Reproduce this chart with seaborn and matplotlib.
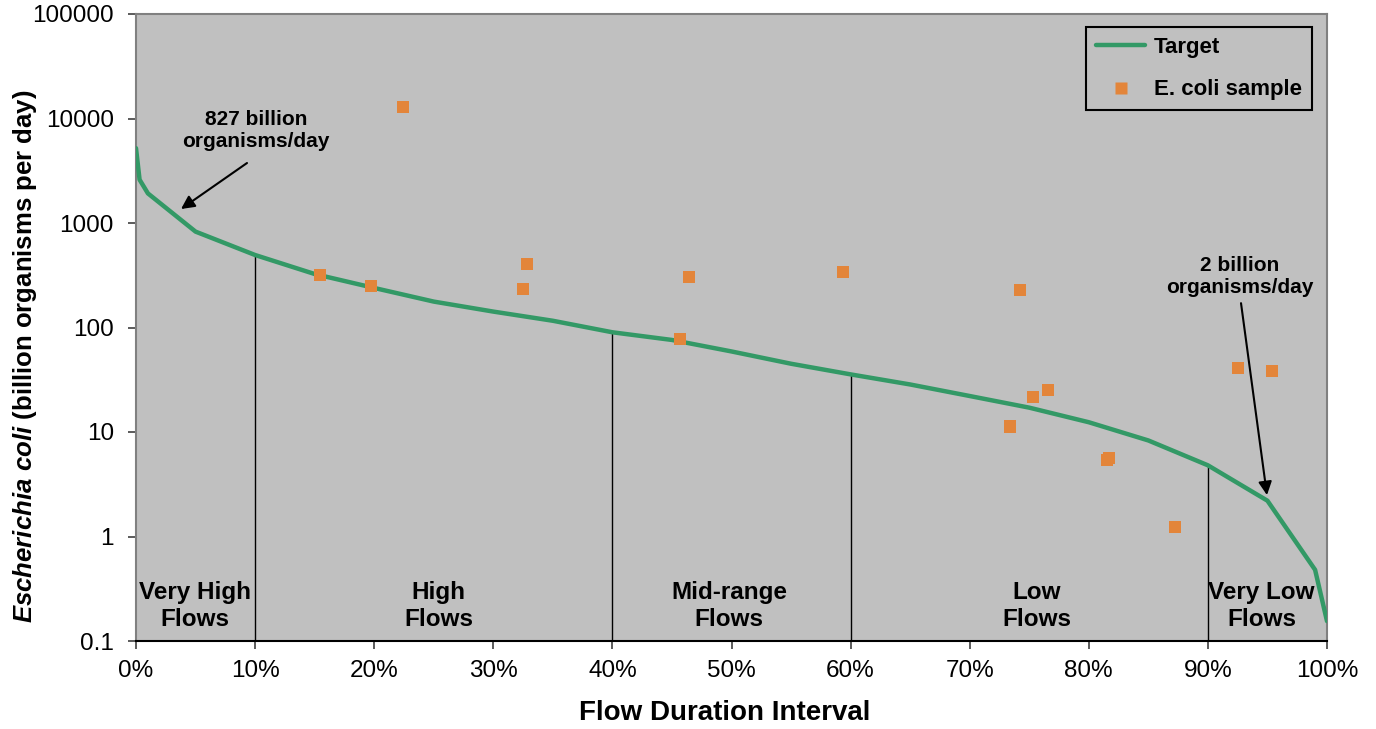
import numpy as np
import pandas as pd
import matplotlib
matplotlib.use("Agg")
import matplotlib.pyplot as plt
from matplotlib.ticker import FixedLocator, FixedFormatter, PercentFormatter, NullLocator
from matplotlib.lines import Line2D
import seaborn as sns

# ---- data ----
target_pct = [0, 0.3, 1, 5, 10, 15, 20, 25, 30, 35, 40, 45, 50, 55, 60, 65,
              70, 75, 80, 85, 90, 95, 99, 100]
target_val = [5200, 2600, 1920, 827, 494, 325, 239, 177, 142, 116, 90, 76, 59,
              45, 35.6, 28.5, 22.1, 17.1, 12.4, 8.3, 4.8, 2.2, 0.48, 0.155]

sample_pct = [22.42, 15.47, 19.73, 32.52, 32.85, 45.65, 46.43, 59.36, 74.25,
              73.41, 75.34, 76.57, 81.53, 81.70, 87.21, 92.53, 95.38]
sample_val = [12800, 316, 248, 233, 405, 77, 302, 337, 228, 11.3, 21.5, 25.1,
              5.43, 5.64, 1.24, 40.9, 38.6]

zone_bounds = [10, 40, 60, 90]
zone_labels = ["Very High\nFlows", "High\nFlows", "Mid-range\nFlows",
               "Low\nFlows", "Very Low\nFlows"]
zone_centers = [4.95, 25.4, 49.8, 75.6, 94.5]

y_ticks = [0.1, 1, 10, 100, 1000, 10000, 100000]
y_tick_labels = ["0.1", "1", "10", "100", "1000", "10000", "100000"]
x_ticks = [0, 10, 20, 30, 40, 50, 60, 70, 80, 90, 100]

GREEN = "#339966"
ORANGE = "#E3853A"
BG = "#C0C0C0"

sns.set_style("ticks")
plt.rcParams["font.family"] = ["Liberation Sans", "DejaVu Sans"]
plt.rcParams["text.color"] = "black"
plt.rcParams["axes.labelcolor"] = "black"
plt.rcParams["xtick.color"] = "black"
plt.rcParams["ytick.color"] = "black"
plt.rcParams["mathtext.fontset"] = "custom"
plt.rcParams["mathtext.rm"] = "Liberation Sans:bold"
plt.rcParams["mathtext.bf"] = "Liberation Sans:bold"
plt.rcParams["mathtext.it"] = "Liberation Sans:italic:bold"
try:
    plt.rcParams["mathtext.bfit"] = "Liberation Sans:italic:bold"
except KeyError:
    pass

fig = plt.figure(figsize=(13.76, 7.29), dpi=100)
fig.patch.set_facecolor("white")
ax = fig.add_axes([136 / 1376, 1 - 641 / 729, (1327 - 136) / 1376, (641 - 14) / 729])
ax.set_facecolor(BG)

df_t = pd.DataFrame({"pct": target_pct, "val": target_val})
df_s = pd.DataFrame({"pct": sample_pct, "val": sample_val})

sns.lineplot(data=df_t, x="pct", y="val", ax=ax, color=GREEN, lw=3.2,
             label="Target", zorder=3, estimator=None)
sns.scatterplot(data=df_s, x="pct", y="val", ax=ax, marker="s", s=78,
                color=ORANGE, edgecolor="none", label="E. coli sample", zorder=4)

ax.set_yscale("log")
ax.set_xlim(0, 100)
ax.set_ylim(0.1, 100000)

# zone boundary lines up to the target curve
lookup = dict(zip(target_pct, target_val))
ax.vlines(zone_bounds, 0.1, [lookup[b] for b in zone_bounds], color="black",
          lw=1.0, zorder=2)

ax.yaxis.set_major_locator(FixedLocator(y_ticks))
ax.yaxis.set_major_formatter(FixedFormatter(y_tick_labels))
ax.yaxis.set_minor_locator(NullLocator())
ax.xaxis.set_major_locator(FixedLocator(x_ticks))
ax.xaxis.set_major_formatter(PercentFormatter(xmax=100, decimals=0))
ax.tick_params(axis="both", labelsize=17.5, length=6, width=1.2,
               color="#404040", labelcolor="black")
ax.tick_params(axis="y", pad=10)
ax.tick_params(axis="x", pad=8)
ax.set_xlabel("")
ax.set_ylabel("")

for side in ["top", "right", "left"]:
    ax.spines[side].set_color("#808080")
    ax.spines[side].set_linewidth(1.5)
ax.spines["bottom"].set_color("black")
ax.spines["bottom"].set_linewidth(1.5)

# zone labels
for xc, lab in zip(zone_centers, zone_labels):
    ax.text(xc, 0.0558, lab, transform=ax.get_xaxis_transform(), ha="center",
            va="center", fontsize=17.5, fontweight="bold", linespacing=1.2,
            zorder=5)

# annotations
ax.text(0.1008, 0.8134, "827 billion\norganisms/day", transform=ax.transAxes,
        ha="center", va="center", fontsize=15, fontweight="bold", linespacing=1.2)
ax.annotate("", xy=(3.78, 1361), xytext=(9.32, 3750),
            arrowprops=dict(arrowstyle="-|>", color="black", lw=1.5,
                            mutation_scale=20, shrinkA=0, shrinkB=0))
ax.text(0.927, 0.582, "2 billion\norganisms/day", transform=ax.transAxes,
        ha="center", va="center", fontsize=15, fontweight="bold", linespacing=1.2)
ax.annotate("", xy=(94.96, 2.49), xytext=(92.78, 171),
            arrowprops=dict(arrowstyle="-|>", color="black", lw=1.5,
                            mutation_scale=20, shrinkA=0, shrinkB=0))

# legend
handles = [Line2D([0], [0], color=GREEN, lw=3.2),
           Line2D([0], [0], color=ORANGE, marker="s", ls="none", markersize=8.8,
                  markeredgecolor="none")]
leg = ax.legend(handles, ["Target", "E. coli sample"], loc="upper right",
                bbox_to_anchor=(0.9874, 0.979), borderaxespad=0, fancybox=False,
                frameon=True, facecolor=BG, edgecolor="black", framealpha=1,
                prop={"size": 16, "weight": "bold"}, labelspacing=0.95,
                handlelength=2.2, handletextpad=0.4, borderpad=0.45)
leg.get_frame().set_linewidth(1.5)
for t in leg.get_texts():
    t.set_color("black")

# axis titles
fig.text(25 / 1376, 1 - 356.5 / 729,
         r"$\mathbfit{Escherichia\ coli}$ (billion organisms per day)",
         rotation=90, ha="center", va="center", fontsize=18.5, fontweight="bold")
fig.text(724.5 / 1376, 1 - 713 / 729, "Flow Duration Interval", ha="center",
         va="center", fontsize=20, fontweight="bold")

fig.savefig("out.png", dpi=100, facecolor="white")
